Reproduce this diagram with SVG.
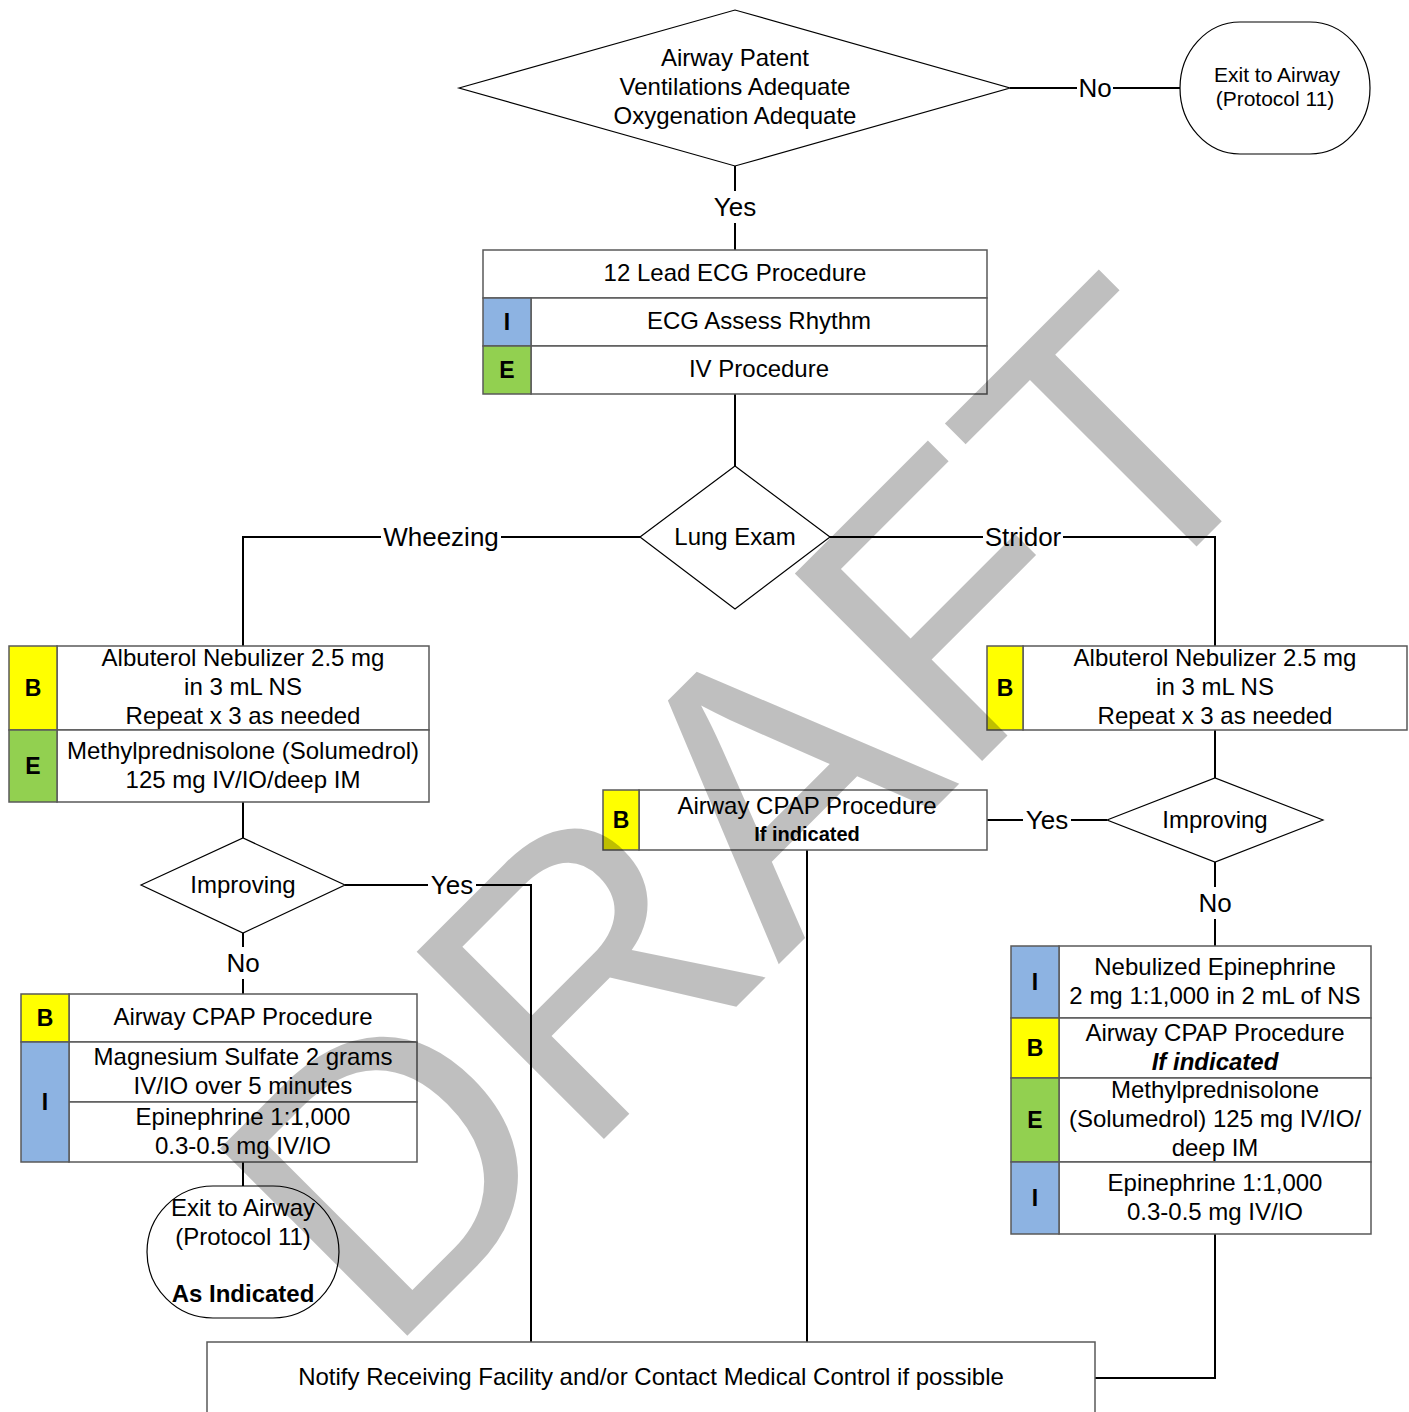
<svg xmlns="http://www.w3.org/2000/svg" width="1409" height="1412" viewBox="0 0 1409 1412">
<style>
text{font-family:"Liberation Sans",Arial,sans-serif;font-size:24px;fill:#000;text-anchor:middle}
.lbl{font-size:26px}
.tag{font-size:23px;font-weight:bold}
.sm{font-size:21px}
.bold{font-weight:bold}
.box{fill:#fff;stroke:#595959;stroke-width:1.5}
.dia{fill:#fff;stroke:#000;stroke-width:1.2}
.conn{fill:none;stroke:#000;stroke-width:2}
.bg{fill:#fff}
.Y{fill:#ffff00;stroke:#595959;stroke-width:1.5}
.Bl{fill:#8db3e2;stroke:#595959;stroke-width:1.5}
.G{fill:#92d050;stroke:#595959;stroke-width:1.5}
.wm{font-size:385px;fill:#000;fill-opacity:0.25;text-anchor:start}
</style>
<rect width="1409" height="1412" fill="#fff"/>
<g id="connectors">
<path class="conn" d="M1010 88H1180"/>
<path class="conn" d="M735 166V250"/>
<path class="conn" d="M735 394V466"/>
<path class="conn" d="M640 537H243V646"/>
<path class="conn" d="M830 537H1215V646"/>
<path class="conn" d="M243 802V838"/>
<path class="conn" d="M345 885H531V1342"/>
<path class="conn" d="M243 933V994"/>
<path class="conn" d="M243 1162V1186"/>
<path class="conn" d="M1215 730V778"/>
<path class="conn" d="M1107 820H987"/>
<path class="conn" d="M1215 862V946"/>
<path class="conn" d="M807 850V1342"/>
<path class="conn" d="M1215 1234V1378H1095"/>
<rect class="bg" x="1077" y="72" width="36" height="32"/><text class="lbl" x="1095" y="97">No</text>
<rect class="bg" x="710" y="191" width="50" height="32"/><text class="lbl" x="735" y="216">Yes</text>
<rect class="bg" x="381" y="521" width="120" height="32"/><text class="lbl" x="441" y="546">Wheezing</text>
<rect class="bg" x="983" y="521" width="80" height="32"/><text class="lbl" x="1023" y="546">Stridor</text>
<rect class="bg" x="428" y="869" width="48" height="32"/><text class="lbl" x="452" y="894">Yes</text>
<rect class="bg" x="225" y="947" width="36" height="32"/><text class="lbl" x="243" y="972">No</text>
<rect class="bg" x="1023" y="804" width="48" height="32"/><text class="lbl" x="1047" y="829">Yes</text>
<rect class="bg" x="1197" y="887" width="36" height="32"/><text class="lbl" x="1215" y="912">No</text>
</g>
<g id="airway-check">
<polygon class="dia" points="459,88 735,10 1010,88 735,166"/>
<text x="735" y="66">Airway Patent</text>
<text x="735" y="95">Ventilations Adequate</text>
<text x="735" y="124">Oxygenation Adequate</text>
</g>
<g id="exit-airway-top">
<rect class="dia" x="1180" y="22" width="190" height="132" rx="60" ry="66"/>
<text class="sm" x="1277" y="82">Exit to Airway</text>
<text class="sm" x="1275" y="106">(Protocol 11)</text>
</g>
<g id="ecg-box">
<rect class="box" x="483" y="250" width="504" height="48"/>
<rect class="box" x="531" y="298" width="456" height="48"/>
<rect class="box" x="531" y="346" width="456" height="48"/>
<rect class="Bl" x="483" y="298" width="48" height="48"/>
<rect class="G" x="483" y="346" width="48" height="48"/>
<text x="735" y="281">12 Lead ECG Procedure</text>
<text x="759" y="329">ECG Assess Rhythm</text>
<text x="759" y="377">IV Procedure</text>
<text class="tag" x="507" y="330">I</text>
<text class="tag" x="507" y="378">E</text>
</g>
<g id="lung-exam">
<polygon class="dia" points="640,537 735,466 830,537 735,609"/>
<text x="735" y="545">Lung Exam</text>
</g>
<g id="wheeze-box">
<rect class="box" x="57" y="646" width="372" height="84"/>
<rect class="box" x="57" y="730" width="372" height="72"/>
<rect class="Y" x="9" y="646" width="48" height="84"/>
<rect class="G" x="9" y="730" width="48" height="72"/>
<text x="243" y="666">Albuterol Nebulizer 2.5 mg</text>
<text x="243" y="695">in 3 mL NS</text>
<text x="243" y="724">Repeat x 3 as needed</text>
<text x="243" y="759">Methylprednisolone (Solumedrol)</text>
<text x="243" y="788">125 mg IV/IO/deep IM</text>
<text class="tag" x="33" y="696">B</text>
<text class="tag" x="33" y="774">E</text>
</g>
<g id="improving-left">
<polygon class="dia" points="141,885 243,838 345,885 243,933"/>
<text x="243" y="893">Improving</text>
</g>
<g id="left-treatment">
<rect class="box" x="69" y="994" width="348" height="48"/>
<rect class="box" x="69" y="1042" width="348" height="60"/>
<rect class="box" x="69" y="1102" width="348" height="60"/>
<rect class="Y" x="21" y="994" width="48" height="48"/>
<rect class="Bl" x="21" y="1042" width="48" height="120"/>
<text x="243" y="1025">Airway CPAP Procedure</text>
<text x="243" y="1065">Magnesium Sulfate 2 grams</text>
<text x="243" y="1094">IV/IO over 5 minutes</text>
<text x="243" y="1125">Epinephrine 1:1,000</text>
<text x="243" y="1154">0.3-0.5 mg IV/IO</text>
<text class="tag" x="45" y="1026">B</text>
<text class="tag" x="45" y="1110">I</text>
</g>
<g id="exit-airway-bottom">
<rect class="dia" x="147" y="1186" width="192" height="132" rx="66" ry="66"/>
<text x="243" y="1216">Exit to Airway</text>
<text x="243" y="1245">(Protocol 11)</text>
<text class="bold" x="243" y="1302">As Indicated</text>
</g>
<g id="stridor-box">
<rect class="box" x="1023" y="646" width="384" height="84"/>
<rect class="Y" x="987" y="646" width="36" height="84"/>
<text x="1215" y="666">Albuterol Nebulizer 2.5 mg</text>
<text x="1215" y="695">in 3 mL NS</text>
<text x="1215" y="724">Repeat x 3 as needed</text>
<text class="tag" x="1005" y="696">B</text>
</g>
<g id="improving-right">
<polygon class="dia" points="1107,820 1215,778 1323,820 1215,862"/>
<text x="1215" y="828">Improving</text>
</g>
<g id="cpap-middle">
<rect class="box" x="639" y="790" width="348" height="60"/>
<rect class="Y" x="603" y="790" width="36" height="60"/>
<text x="807" y="814">Airway CPAP Procedure</text>
<text class="bold" x="807" y="841" style="font-size:20px">If indicated</text>
<text class="tag" x="621" y="828">B</text>
</g>
<g id="right-treatment">
<rect class="box" x="1059" y="946" width="312" height="72"/>
<rect class="box" x="1059" y="1018" width="312" height="60"/>
<rect class="box" x="1059" y="1078" width="312" height="84"/>
<rect class="box" x="1059" y="1162" width="312" height="72"/>
<rect class="Bl" x="1011" y="946" width="48" height="72"/>
<rect class="Y" x="1011" y="1018" width="48" height="60"/>
<rect class="G" x="1011" y="1078" width="48" height="84"/>
<rect class="Bl" x="1011" y="1162" width="48" height="72"/>
<text x="1215" y="975">Nebulized Epinephrine</text>
<text x="1215" y="1004">2 mg 1:1,000 in 2 mL of NS</text>
<text x="1215" y="1041">Airway CPAP Procedure</text>
<text class="bold" x="1215" y="1070" style="font-style:italic">If indicated</text>
<text x="1215" y="1098">Methylprednisolone</text>
<text x="1215" y="1127">(Solumedrol) 125 mg IV/IO/</text>
<text x="1215" y="1156">deep IM</text>
<text x="1215" y="1191">Epinephrine 1:1,000</text>
<text x="1215" y="1220">0.3-0.5 mg IV/IO</text>
<text class="tag" x="1035" y="990">I</text>
<text class="tag" x="1035" y="1056">B</text>
<text class="tag" x="1035" y="1128">E</text>
<text class="tag" x="1035" y="1206">I</text>
</g>
<g id="notify">
<rect class="box" x="207" y="1342" width="888" height="100"/>
<text x="651" y="1385">Notify Receiving Facility and/or Contact Medical Control if possible</text>
</g>
<text class="wm" transform="translate(385 1358) rotate(-45)">DRAFT</text>
</svg>
